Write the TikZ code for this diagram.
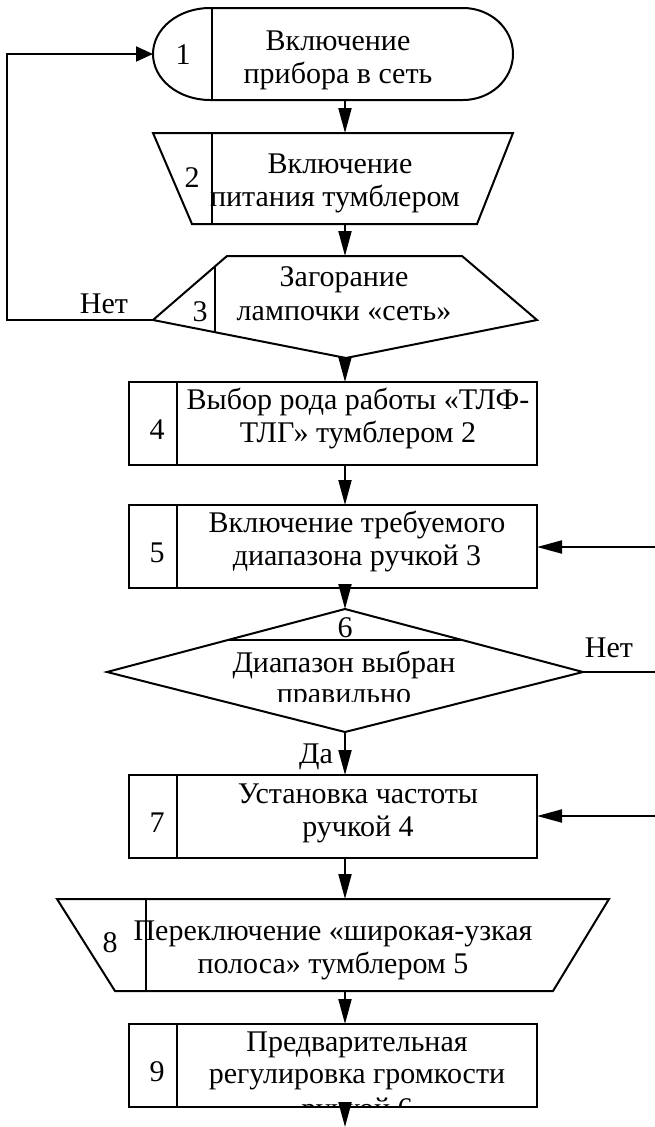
\documentclass[tikz,border=0pt]{standalone}
\usepackage{fontspec}
\setmainfont{Liberation Serif}
\usetikzlibrary{arrows.meta}
\begin{document}
\begin{tikzpicture}[x=1pt,y=-1pt,line width=2pt,line join=miter,
  txt/.style={font=\fontsize{30}{33}\selectfont,inner sep=0pt,anchor=base},
  num/.style={font=\fontsize{30}{33}\selectfont,inner sep=0pt,anchor=center},
  arr/.style={-{Triangle[length=25pt,width=13pt]}},
  larr/.style={-{Triangle[length=17pt,width=15pt]}}]
\useasboundingbox (0,0) rectangle (655,1127);
% ---------- coordinates for connectors
\coordinate (b1w) at (153,54);  \coordinate (b1s) at (345,100);
\coordinate (b2n) at (345,133); \coordinate (b2s) at (345,224);
\coordinate (b3n) at (345,256); \coordinate (b3s) at (345,358);
\coordinate (b3w) at (153,320);
\coordinate (l1) at (7,320);    \coordinate (l2) at (7,54);
\coordinate (b4n) at (345,382); \coordinate (b4s) at (345,465);
\coordinate (b5n) at (345,505); \coordinate (b5s) at (345,588);
\coordinate (b5e) at (537,547); \coordinate (e5) at (655,547);
\coordinate (b6n) at (345,609); \coordinate (b6s) at (345,732);
\coordinate (b6e) at (583,672); \coordinate (e6) at (655,672);
\coordinate (b7n) at (345,775); \coordinate (b7s) at (345,858);
\coordinate (b7e) at (537,816); \coordinate (e7) at (655,816);
\coordinate (b8n) at (345,899); \coordinate (b8s) at (345,991);
\coordinate (b9n) at (345,1024);\coordinate (b9s) at (345,1107);
\coordinate (out) at (345,1127);
% ---------- block 1 (terminator)
\draw (210,8) -- (463,8) arc[start angle=-90,end angle=90,x radius=50,y radius=46]
      -- (210,100) arc[start angle=90,end angle=270,x radius=57,y radius=46] -- cycle;
\draw (212,8) -- (212,100);
\node[num] (n1) at (183,55) {1};
\node[txt] (t1a) at (338,50) {Включение};
\node[txt] (t1b) at (338,83) {прибора в сеть};
% ---------- block 2 (manual operation)
\draw (153,133) -- (513,133) -- (477,224) -- (192,224) -- cycle;
\draw (212,133) -- (212,224);
\node[num] (n2) at (192,178) {2};
\node[txt] (t2a) at (340,173) {Включение};
\node[txt] (t2b) at (335,206) {питания тумблером};
% ---------- block 3 (display)
\draw (227,256) -- (462,256) -- (537,320) -- (346,358) -- (153,320) -- cycle;
\draw (215,266.4) -- (215,332.2);
\node[num] (n3) at (200,312) {3};
\node[txt] (t3a) at (344,286) {Загорание};
\node[txt] (t3b) at (344,320) {лампочки «сеть»};
% ---------- block 4
\draw (129,382) rectangle (537,465);
\draw (177,382) -- (177,465);
\node[num] (n4) at (157,430) {4};
\node[txt] (t4a) at (358,409) {Выбор рода работы «ТЛФ-};
\node[txt] (t4b) at (358,442) {ТЛГ» тумблером 2};
% ---------- block 5
\draw (129,505) rectangle (537,588);
\draw (177,505) -- (177,588);
\node[num] (n5) at (157,553) {5};
\node[txt] (t5a) at (357,532) {Включение требуемого};
\node[txt] (t5b) at (357,565) {диапазона ручкой 3};
% ---------- block 6 (decision)
\draw (345,609) -- (583,672) -- (345,732) -- (107,672) -- cycle;
\draw (228,640) -- (462,640);
\node[num] (n6) at (345,628) {6};
\node[txt] (t6a) at (344,672) {Диапазон выбран};
\begin{scope}
  \clip (200,678) rectangle (490,701);
  \node[txt] (t6b) at (344,703) {правильно};
\end{scope}
% ---------- block 7
\draw (129,775) rectangle (537,858);
\draw (177,775) -- (177,858);
\node[num] (n7) at (157,823) {7};
\node[txt] (t7a) at (358,803) {Установка частоты};
\node[txt] (t7b) at (358,836) {ручкой 4};
% ---------- block 8 (manual operation)
\draw (57,899) -- (609,899) -- (553,991) -- (115,991) -- cycle;
\draw (146,899) -- (146,991);
\node[num] (n8) at (110,943) {8};
\node[txt] (t8a) at (333,940) {Переключение «широкая-узкая};
\node[txt] (t8b) at (333,973) {полоса» тумблером 5};
% ---------- block 9
\draw (129,1024) rectangle (537,1107);
\draw (177,1024) -- (177,1107);
\node[num] (n9) at (157,1072) {9};
\node[txt] (t9a) at (357,1051) {Предварительная};
\node[txt] (t9b) at (357,1083) {регулировка громкости};
\begin{scope}
  \clip (180,1088) rectangle (535,1106);
  \node[txt] (t9c) at (357,1118) {ручкой 6};
\end{scope}
% ---------- connectors
\draw[arr] (b1s) -- (b2n);
\draw[arr] (b2s) -- (b3n);
\draw[arr] (b3s) -- (b4n);
\draw[arr] (b4s) -- (b5n);
\draw[arr] (b5s) -- (b6n);
\draw[arr] (b6s) -- (b7n);
\draw[arr] (b7s) -- (b8n);
\draw[arr] (b8s) -- (b9n);
\draw[arr] (b9s) -- (out);
\draw[larr] (b3w) -- (l1) -- (l2) -- (b1w);
\draw[arr] (e5) -- (b5e);
\draw (b6e) -- (e6);
\draw[arr] (e7) -- (b7e);
% ---------- labels
\node[txt] (no1) at (104,313) {Нет};
\node[txt] (no2) at (609,657) {Нет};
\node[txt] (yes) at (316,763) {Да};
\end{tikzpicture}
\end{document}
